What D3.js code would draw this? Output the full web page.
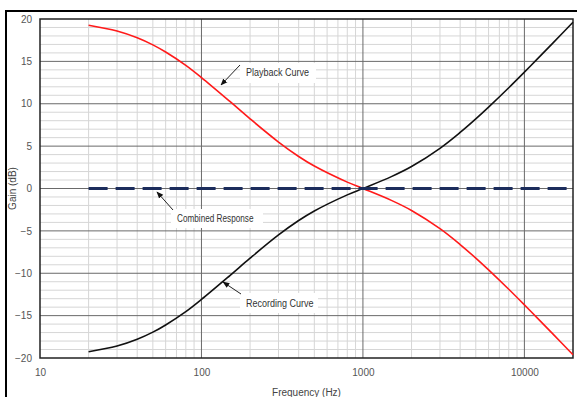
<!DOCTYPE html>
<html>
<head>
<meta charset="utf-8">
<script src="https://cdn.jsdelivr.net/npm/d3@7"></script>
<style>
  body { margin: 0; background: #fff; }
  svg { display: block; font-family: "Liberation Sans", Arial, sans-serif; }
</style>
</head>
<body>
<svg width="577" height="397"></svg>
<script>
// Data (RIAA curves, dB relative to 1 kHz)
const freqs    = [20, 30, 40, 50, 60, 80, 100, 150, 200, 300, 400, 500, 800, 1000, 1500, 2000, 3000, 4000, 5000, 6000, 8000, 10000, 12000, 15000, 20000];
const playback = [19.27, 18.59, 17.79, 16.95, 16.10, 14.53, 13.09, 10.27, 8.22, 5.48, 3.78, 2.65, 0.75, 0, -1.40, -2.59, -4.74, -6.61, -8.21, -9.60, -11.89, -13.73, -15.26, -17.16, -19.62];
const recording = [-19.27, -18.59, -17.79, -16.95, -16.10, -14.53, -13.09, -10.27, -8.22, -5.48, -3.78, -2.65, -0.75, 0, 1.40, 2.59, 4.74, 6.61, 8.21, 9.60, 11.89, 13.73, 15.26, 17.16, 19.62];
const combined = [0, 0];
const combinedFreqs = [20, 20000];
const xTicks = [10, 100, 1000, 10000];
const yTicks = [-20, -15, -10, -5, 0, 5, 10, 15, 20];

const svg = d3.select('svg');

// outer frame
svg.append('rect')
   .attr('x', 6).attr('y', 11)
   .attr('width', 600).attr('height', 420)
   .attr('fill', 'none').attr('stroke', '#000').attr('stroke-width', 2);

const x = d3.scaleLog().domain([10, 20000]).range([40, 573]);
const y = d3.scaleLinear().domain([-20, 20]).range([358, 19]);

// grid
const grid = svg.append('g');
const minorX = [];
[10, 100, 1000, 10000].forEach(d => {
  for (let k = 2; k <= 9; k++) if (d * k < 20000) minorX.push(d * k);
});
grid.selectAll('.vmin').data(minorX).enter().append('line')
    .attr('x1', d => x(d)).attr('x2', d => x(d))
    .attr('y1', y(20)).attr('y2', y(-20))
    .attr('stroke', '#d6d6d6').attr('stroke-width', 1);
grid.selectAll('.hmin').data(d3.range(-19, 20).filter(v => v % 5 !== 0)).enter().append('line')
    .attr('x1', x(10)).attr('x2', x(20000))
    .attr('y1', d => y(d)).attr('y2', d => y(d))
    .attr('stroke', '#d6d6d6').attr('stroke-width', 1);
grid.selectAll('.vmaj').data([100, 1000, 10000]).enter().append('line')
    .attr('x1', d => x(d)).attr('x2', d => x(d))
    .attr('y1', y(20)).attr('y2', y(-20))
    .attr('stroke', '#6a6a6a').attr('stroke-width', 1);
grid.selectAll('.hmaj').data([-15, -10, -5, 0, 5, 10, 15]).enter().append('line')
    .attr('x1', x(10)).attr('x2', x(20000))
    .attr('y1', d => y(d)).attr('y2', d => y(d))
    .attr('stroke', '#6a6a6a').attr('stroke-width', 1);

// plot border
svg.append('rect')
   .attr('x', x(10)).attr('y', y(20))
   .attr('width', x(20000) - x(10)).attr('height', y(-20) - y(20))
   .attr('fill', 'none').attr('stroke', '#222').attr('stroke-width', 1.5);

// axes
const xAxis = svg.append('g')
   .attr('transform', 'translate(0,' + y(-20) + ')')
   .call(d3.axisBottom(x).tickValues(xTicks).tickFormat(d3.format('d')).tickSize(0).tickPadding(11));
const yAxis = svg.append('g')
   .attr('transform', 'translate(' + x(10) + ',0)')
   .call(d3.axisLeft(y).tickValues(yTicks).tickSize(0).tickPadding(8));
[xAxis, yAxis].forEach(a => {
  a.select('.domain').remove();
  a.selectAll('text').attr('font-size', 10).attr('fill', '#555')
   .attr('font-family', '"Liberation Sans", Arial, sans-serif');
});

svg.append('text')
   .attr('x', (x(10) + x(20000)) / 2).attr('y', 396)
   .attr('text-anchor', 'middle').attr('font-size', 10).attr('fill', '#444')
   .text('Frequency (Hz)');
svg.append('text')
   .attr('transform', 'translate(16,' + y(0) + ') rotate(-90)')
   .attr('text-anchor', 'middle').attr('font-size', 10).attr('fill', '#444')
   .text('Gain (dB)');

// curves
const line = d3.line().x(d => x(d[0])).y(d => y(d[1])).curve(d3.curveCatmullRom.alpha(0.5));
svg.append('path')
   .datum(freqs.map((f, i) => [f, playback[i]]))
   .attr('d', line).attr('fill', 'none').attr('stroke', '#ff1a1a').attr('stroke-width', 1.6);
svg.append('path')
   .datum(freqs.map((f, i) => [f, recording[i]]))
   .attr('d', line).attr('fill', 'none').attr('stroke', '#111').attr('stroke-width', 1.6);
svg.append('path')
   .datum(combinedFreqs.map((f, i) => [f, combined[i]]))
   .attr('d', line).attr('fill', 'none').attr('stroke', '#1c2d5c')
   .attr('stroke-width', 3).attr('stroke-dasharray', '19,8');

// annotations
svg.append('defs').append('marker')
   .attr('id', 'ah').attr('viewBox', '0 0 10 10').attr('refX', 9).attr('refY', 5)
   .attr('markerWidth', 7).attr('markerHeight', 7).attr('orient', 'auto')
   .append('path').attr('d', 'M0,1 L10,5 L0,9 Z').attr('fill', '#111');

const notes = [
  { text: 'Playback Curve',    tx: 246, ty: 76,  from: [240, 65],  to: [221, 85],  box: [240, 63, 76, 20] },
  { text: 'Recording Curve',   tx: 246, ty: 307, from: [241, 294], to: [223, 282], box: [240, 293, 78, 20] },
  { text: 'Combined Response', tx: 177, ty: 222, from: [173, 210], to: [157, 192], box: [171, 209, 92, 19] }
];
notes.forEach(n => {
  svg.append('rect').attr('x', n.box[0]).attr('y', n.box[1])
     .attr('width', n.box[2]).attr('height', n.box[3]).attr('fill', '#fff');
  svg.append('line')
     .attr('x1', n.from[0]).attr('y1', n.from[1]).attr('x2', n.to[0]).attr('y2', n.to[1])
     .attr('stroke', '#222').attr('stroke-width', 1).attr('marker-end', 'url(#ah)');
  svg.append('text').attr('x', n.tx).attr('y', n.ty)
     .attr('font-size', 10).attr('fill', '#333')
     .attr('textLength', n.text.length * 4.5).attr('lengthAdjust', 'spacingAndGlyphs')
     .text(n.text);
});
</script>
</body>
</html>
